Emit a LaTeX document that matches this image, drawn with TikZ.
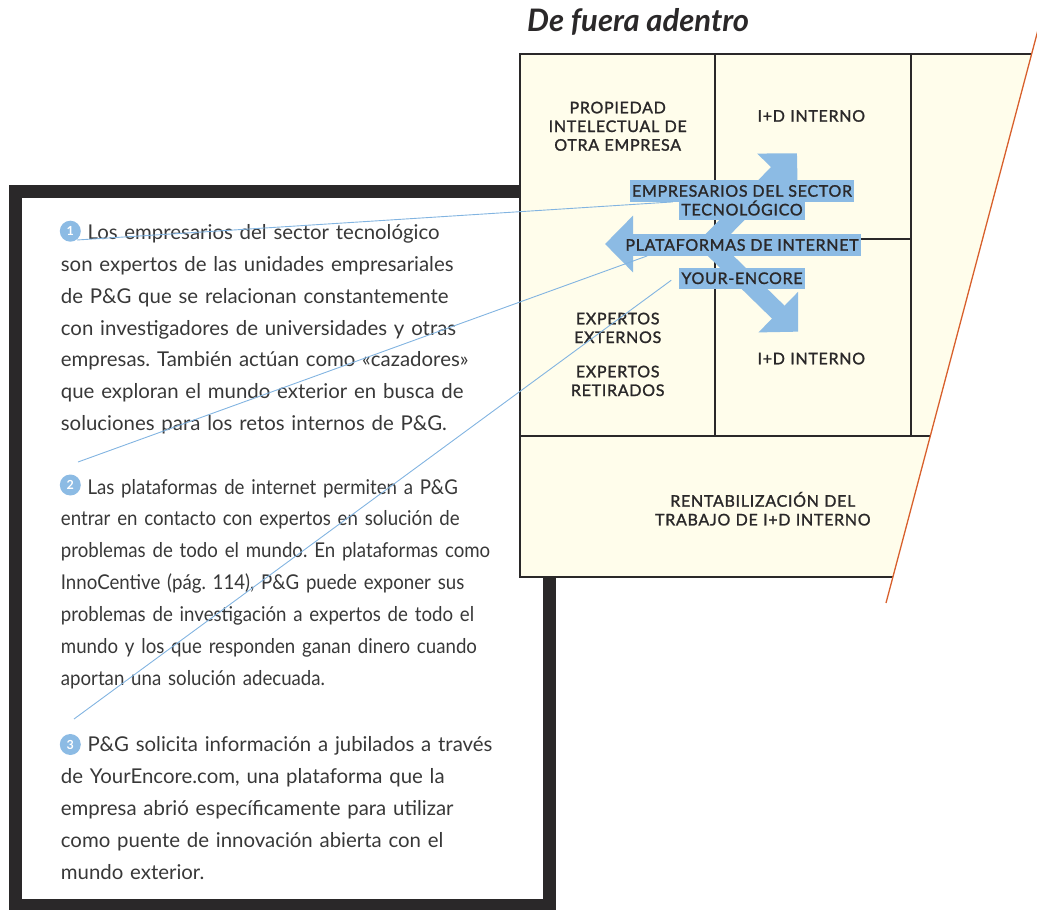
\documentclass[tikz,border=0pt]{standalone}
\usepackage{fontspec}
\setmainfont{Lato}
\newfontfamily\capsfont[LetterSpace=4.5,FakeBold=1.4]{Lato}
\newfontfamily\narrowfont[FakeStretch=0.915]{Lato}
\usetikzlibrary{positioning,calc,arrows.meta}

\definecolor{framegray}{HTML}{2A2829}
\definecolor{inkgray}{HTML}{383838}
\definecolor{cream}{HTML}{FFFDEB}
\definecolor{arrowblue}{HTML}{8CBBE4}
\definecolor{leadblue}{HTML}{82B4E1}
\definecolor{rimorange}{HTML}{D8602C}

\tikzset{
  cell/.style={font=\capsfont\fontsize{16}{18.7}\selectfont, text=framegray,
    text width=240pt, align=center, inner sep=0pt, anchor=base},
  tag/.style={font=\capsfont\fontsize{16}{18.7}\selectfont, text=framegray,
    fill=arrowblue, inner xsep=2pt, inner ysep=0pt, text height=16.5pt, text depth=5pt},
  flow/.style={arrowblue, line width=18pt, -{Triangle[length=28pt,width=55pt]}},
  lead/.style={leadblue, line width=0.9pt},
  gridline/.style={framegray, line width=2.2pt},
  para/.style={font=\fontsize{20.4}{31.9}\selectfont, text=inkgray,
    text width=490pt, align=left, inner sep=0pt, anchor=base west},
  marker/.style={circle, fill=arrowblue, text=white, inner sep=0pt,
    minimum size=21pt, font=\bfseries\fontsize{12.5}{12.5}\selectfont}
}

\begin{document}
\frenchspacing
\begin{tikzpicture}[x=1pt,y=-1pt]
  \useasboundingbox (0,0) rectangle (1037,910);

  % black notes frame, partly hidden by the panel
  \draw[framegray, line width=13pt] (15.8,191) rectangle (549,905.5);

  % cream panel cut by the orange rim
  \fill[cream] (520,54) -- (1031.6,54) -- (892.9,577) -- (520,577) -- cycle;
  \draw[gridline] (520,54) -- (1031.6,54);
  \draw[gridline] (520,436) -- (930.3,436);
  \draw[gridline] (520,577) -- (892.9,577);
  \draw[gridline] (520,53) -- (520,578);
  \foreach \x in {715,911}
    \draw[gridline] (\x,54) -- (\x,436);
  \draw[gridline] (715,239) -- (911,239);
  \draw[rimorange, line width=1.3pt] (1039,26.2) -- (886,603);

  \node[font=\bfseries\itshape\fontsize{31}{31}\selectfont, text=framegray,
    anchor=base west, inner sep=0pt] (title) at (527,31.7) {De fuera adentro};

  \node[cell] (ipOther) at (617.7,113.3) {PROPIEDAD\\INTELECTUAL DE\\OTRA EMPRESA};
  \node[cell] (rdTop) at (811.3,121.7) {I+D INTERNO};
  \node[cell] (extExperts) at (617.7,324.3) {EXPERTOS\\EXTERNOS};
  \node[cell] (retExperts) at (617.7,377.3) {EXPERTOS\\RETIRADOS};
  \node[cell] (rdLow) at (811.3,364.3) {I+D INTERNO};
  \node[cell] (rdProfit) at (762.8,506.7) {RENTABILIZACIÓN DEL\\TRABAJO DE I+D INTERNO};

  % the three channels
  \coordinate (hub) at (708.5,244);
  \coordinate (tipUp) at (797,153.3);
  \coordinate (tipLeft) at (605,244);
  \coordinate (tipDown) at (798.3,331.7);
  \draw[flow] (hub) -- (tipUp);
  \draw[flow] (hub) -- (tipLeft);
  \draw[flow] (hub) -- (tipDown);

  \node[tag, anchor=base] (lblTechA) at (742,196.7) {EMPRESARIOS DEL SECTOR};
  \node[tag, text height=13.3pt, below=0pt of lblTechA] (lblTechB) {TECNOLÓGICO};
  \node[tag, anchor=base] (lblWeb) at (742,250.7) {PLATAFORMAS DE INTERNET};
  \node[tag, anchor=base] (lblEncore) at (742,284) {YOUR-ENCORE};

  % notes
  \node[para] (para1) at (60.7,239.3) {\hspace*{26.6pt}Los empresarios del sector tecnológico\\
    son expertos de las unidades empresariales\\
    de P\&G que se relacionan constantemente\\
    con investigadores de universidades y otras\\
    empresas. También actúan como «cazadores»\\
    que exploran el mundo exterior en busca de\\
    soluciones para los retos internos de P\&G.};
  \node[para, font=\narrowfont\fontsize{20.4}{31.9}\selectfont] (para2) at (60.7,494)
    {\hspace*{26.6pt}Las plataformas de internet permiten a P\&G\\
    entrar en contacto con expertos en solución de\\
    problemas de todo el mundo. En plataformas como\\
    InnoCentive (pág. 114), P\&G puede exponer sus\\
    problemas de investigación a expertos de todo el\\
    mundo y los que responden ganan dinero cuando\\
    aportan una solución adecuada.};
  \node[para] (para3) at (60.7,751.7) {\hspace*{26.6pt}P\&G solicita información a jubilados a través\\
    de YourEncore.com, una plataforma que la\\
    empresa abrió específicamente para utilizar\\
    como puente de innovación abierta con el\\
    mundo exterior.};

  \node[marker] (num1) at (70.3,231.2) {1};
  \node[marker] (num2) at (70.3,485) {2};
  \node[marker] (num3) at (70.3,744.5) {3};

  \coordinate (from1) at (77,240);
  \coordinate (from2) at (78,462);
  \coordinate (from3) at (74,719);
  \draw[lead] (from1) -- ($(lblTechA.south west)+(43,0)$);
  \draw[lead] (from2) -- ($(lblWeb.south west)+(24,0)$);
  \draw[lead] (from3) -- ($(lblEncore.west)+(-8,2)$);
\end{tikzpicture}
\end{document}
